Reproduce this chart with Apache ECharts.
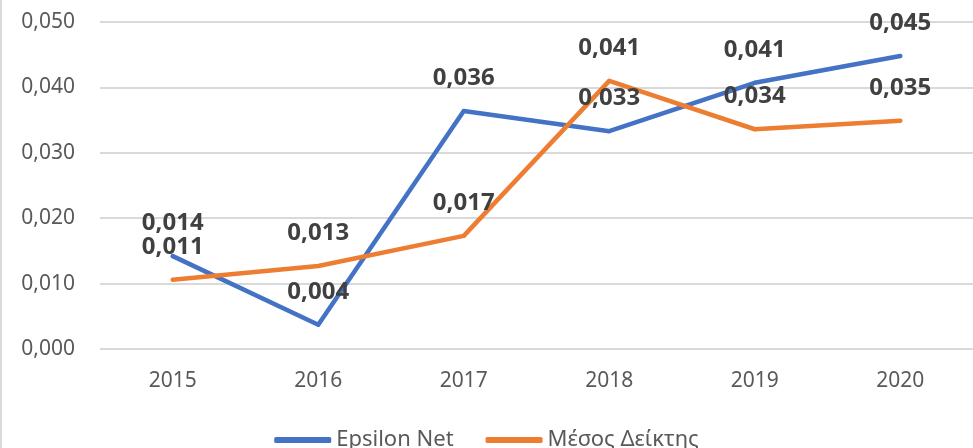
<!DOCTYPE html>
<html lang="el">
<head>
    <meta charset="UTF-8">
    <title>Epsilon Net</title>
    <script src="https://cdn.jsdelivr.net/npm/echarts@6/dist/echarts.min.js"></script>
    <style>
        html, body { margin: 0; padding: 0; background: #fff; }
        #main { width: 973px; height: 448px; }
    </style>
</head>
<body>
<div id="main"></div>
<script>
    // δεδομένα
    var years = ['2015', '2016', '2017', '2018', '2019', '2020'];
    var epsilonNet = [0.0142, 0.0037, 0.0364, 0.0333, 0.0407, 0.0448];
    var mesosDeiktis = [0.0106, 0.0127, 0.0173, 0.0410, 0.0336, 0.0349];

    function fmt(v) {
        return v.toFixed(3).replace('.', ',');
    }

    var font = '"Noto Sans", sans-serif';
    var myChart = echarts.init(document.getElementById('main'));

    var labelStyle = {
        show: true,
        position: 'top',
        distance: 19,
        color: '#404040',
        fontFamily: font,
        fontWeight: 'bold',
        fontSize: 24,
        formatter: function (p) { return fmt(p.value); }
    };

    var option = {
        animation: false,
        backgroundColor: '#fff',
        grid: { left: 100, top: 22, width: 881, bottom: 99 },
        legend: {
            bottom: -8,
            left: 'center',
            itemWidth: 57,
            itemHeight: 6,
            itemGap: 32,
            icon: 'roundRect',
            textStyle: { color: '#595959', fontFamily: font, fontSize: 22 },
            data: ['Epsilon Net', 'Μέσος Δείκτης']
        },
        xAxis: {
            type: 'category',
            data: years,
            boundaryGap: true,
            axisLine: { show: false },
            axisTick: { show: false },
            axisLabel: { color: '#595959', fontFamily: font, fontSize: 21, margin: 22 }
        },
        yAxis: {
            type: 'value',
            min: 0,
            max: 0.05,
            interval: 0.01,
            axisLine: { show: false },
            axisTick: { show: false },
            axisLabel: {
                color: '#595959', fontFamily: font, fontSize: 21, margin: 25,
                formatter: fmt
            },
            splitLine: { lineStyle: { color: '#d9d9d9', width: 2 } }
        },
        series: [
            {
                name: 'Epsilon Net',
                type: 'line',
                data: epsilonNet,
                symbol: 'circle',
                symbolSize: 4,
                showSymbol: true,
                color: '#4472C4',
                lineStyle: { width: 4.5, cap: 'round', join: 'round' },
                label: labelStyle,
                z: 2
            },
            {
                name: 'Μέσος Δείκτης',
                type: 'line',
                data: mesosDeiktis,
                symbol: 'circle',
                symbolSize: 4,
                showSymbol: true,
                color: '#ED7D31',
                lineStyle: { width: 4.5, cap: 'round', join: 'round' },
                label: labelStyle,
                z: 2
            }
        ],
        graphic: [
            {
                type: 'rect',
                left: 0,
                top: 0,
                shape: { width: 2, height: 448 },
                style: { fill: '#d9d9d9' }
            }
        ]
    };

    myChart.setOption(option);
</script>
</body>
</html>
